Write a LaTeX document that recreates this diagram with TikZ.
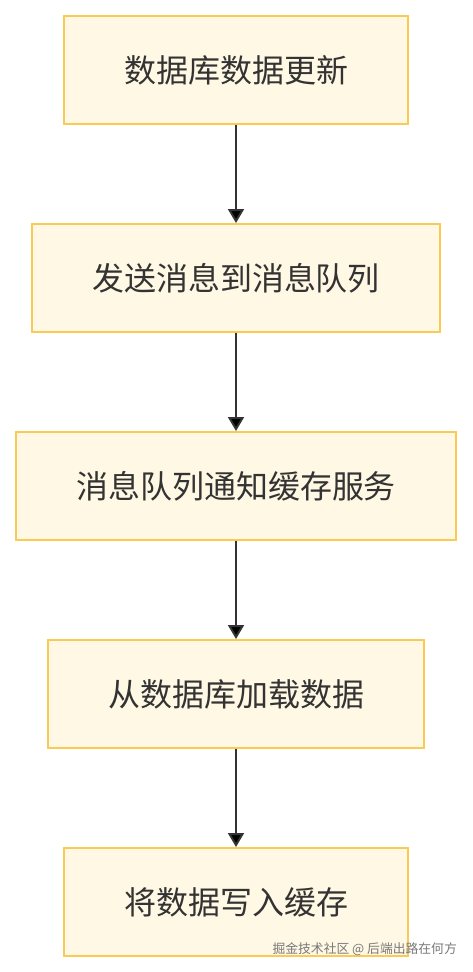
\documentclass[tikz,border=0pt]{standalone}
\usepackage{fontspec}
\setmainfont{Noto Sans CJK SC}
\usetikzlibrary{arrows.meta}
\definecolor{boxfill}{RGB}{255,248,228}
\definecolor{boxline}{RGB}{250,202,85}
\definecolor{inkgray}{RGB}{51,51,51}
\definecolor{markgray}{RGB}{120,120,120}
\begin{document}
\begin{tikzpicture}[x=1pt, y=-1pt,
		node_style/.style={rectangle,draw=boxline,fill=boxfill,line width=2pt,minimum height=108pt,inner sep=0pt,text=inkgray,font=\fontsize{32pt}{36pt}\selectfont},
		edge_style/.style={draw=inkgray,line width=2pt,-{Triangle[width=16pt,length=14pt]}}]
		\useasboundingbox (0,0) rectangle (472,972);
		\node[node_style, minimum width=344pt] (n1) at (236,70)  {数据库数据更新};
		\node[node_style, minimum width=408pt] (n2) at (236,278) {发送消息到消息队列};
		\node[node_style, minimum width=440pt] (n3) at (236,486) {消息队列通知缓存服务};
		\node[node_style, minimum width=376pt] (n4) at (236,694) {从数据库加载数据};
		\node[node_style, minimum width=344pt] (n5) at (236,902) {将数据写入缓存};
		\draw[edge_style]  (n1) edge (n2);
		\draw[edge_style]  (n2) edge (n3);
		\draw[edge_style]  (n3) edge (n4);
		\draw[edge_style]  (n4) edge (n5);
		\node[anchor=east, inner sep=0pt, text=markgray, font=\fontsize{12.8pt}{15pt}\selectfont] (mark) at (457,949) {掘金技术社区 @ 后端出路在何方};
\end{tikzpicture}
\end{document}
